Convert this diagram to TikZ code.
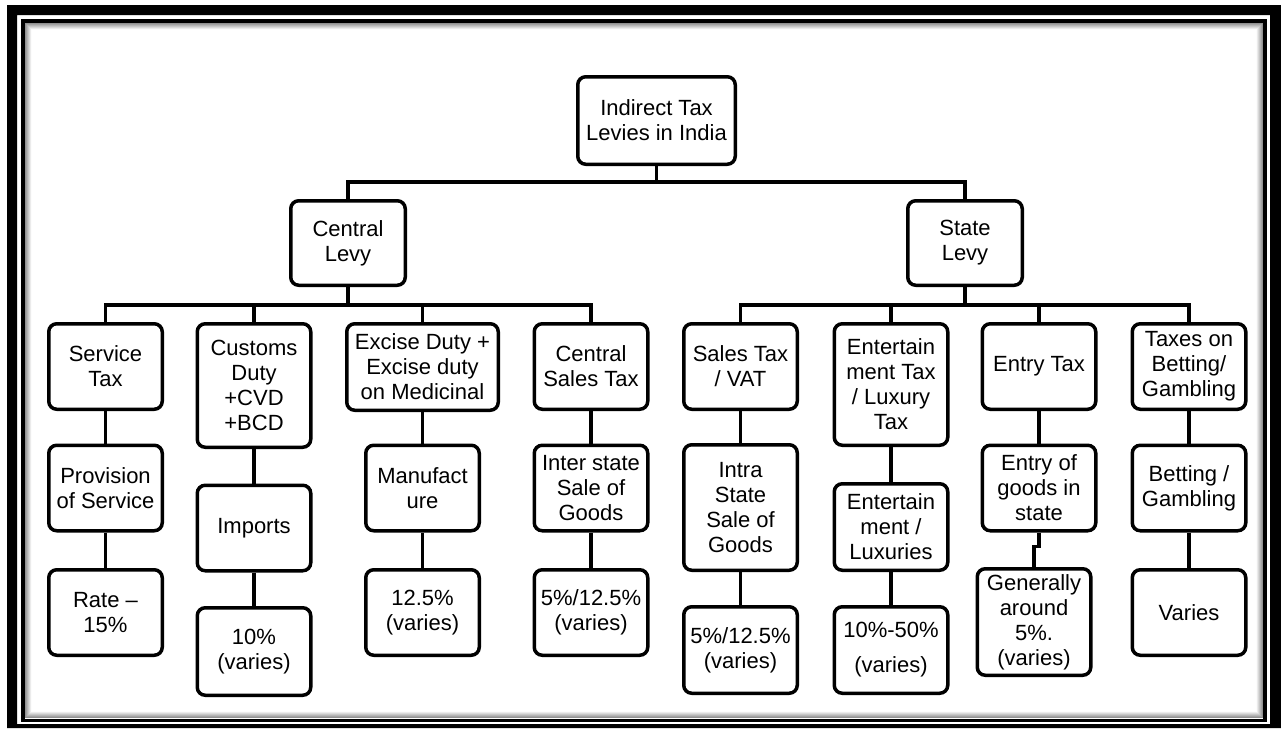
\documentclass[tikz,border=0pt]{standalone}
\usepackage{fontspec}
\setmainfont{Liberation Sans}

\begin{document}
\begin{tikzpicture}[x=1pt,y=-1pt,line width=3.5pt,
		box/.style={draw,rounded corners=8pt,align=center,inner sep=0pt,
			minimum width=113.5pt,minimum height=85.5pt,
			font=\fontsize{22}{25}\selectfont}]
				\useasboundingbox (0,0) rectangle (1281,728);
				\fill[even odd rule] (7,5) rectangle (1281,728) (17,15) rectangle (1270,724);
				\foreach \i [evaluate=\i as \g using 50-7*\i] in {1,...,7}
					\draw[black!\g,line width=1pt] (24.75+\i,22.75+\i) rectangle (1263.25-\i,718.75-\i);
				\draw[line width=3.5pt] (23,21) rectangle (1265,720.5);
				\node[box,minimum width=157.5pt,minimum height=87.5pt] (T) at (656.5,120.5) {Indirect Tax\\Levies in India};
				\node[box,minimum width=114.5pt,minimum height=84.5pt] (C) at (348,243) {Central\\Levy};
				\node[box,minimum width=114.5pt,minimum height=84.5pt] (S) at (965,243) {State\\Levy};
				\node[box] (C1) at (105.5,366.5) {Service\\Tax};
				\node[box] (C1') at (105.5,488) {Provision\\of Service};
				\node[box] (C1'') at (105.5,612.5) {Rate –\\15\%};
				\node[box,minimum height=123.5pt] (C2) at (254,385.5) {Customs\\Duty\\+CVD\\+BCD};
				\node[box] (C2') at (254,528) {Imports};
				\node[box,minimum height=87.5pt] (C2'') at (254,651.5) {10\%\\(varies)};
				\node[box,minimum width=151.5pt,minimum height=86.5pt] (C3) at (422.5,367) {Excise Duty +\\Excise duty\\on Medicinal};
				\node[box] (C3') at (422.5,488) {Manufact\\ure};
				\node[box] (C3'') at (422.5,612.5) {12.5\%\\(varies)};
				\node[box] (C4) at (591,366.5) {Central\\Sales Tax};
				\node[box] (C4') at (591,488) {Inter state\\Sale of\\Goods};
				\node[box] (C4'') at (591,612.5) {5\%/12.5\%\\(varies)};
				\node[box] (S1) at (740.5,366.5) {Sales Tax\\/ VAT};
				\node[box,minimum height=125.5pt] (S1') at (740.5,507.5) {Intra\\State\\Sale of\\Goods};
				\node[box,minimum height=86.5pt] (S1'') at (740.5,650) {5\%/12.5\%\\(varies)};
				\node[box,minimum height=121.5pt] (S2) at (891,384.5) {Entertain\\ment Tax\\/ Luxury\\Tax};
				\node[box,minimum height=86.5pt] (S2') at (891,527) {Entertain\\ment /\\Luxuries};
				\node[box,minimum height=86.5pt] (S2'') at (891,650) {10\%-50\%\\[10pt](varies)};
				\node[box] (S3) at (1039,366.5) {Entry Tax};
				\node[box] (S3') at (1039,488) {Entry of\\goods in\\state};
				\node[box,minimum height=106.5pt] (S3'') at (1034,622) {Generally\\around\\5\%.\\(varies)};
				\node[box] (S4) at (1189,366.5) {Taxes on\\Betting/\\Gambling};
				\node[box] (S4') at (1189,488) {Betting /\\Gambling};
				\node[box] (S4'') at (1189,612.5) {Varies};
				\draw (T.south) -- ++(0,16) -| (C.north);
				\draw (T.south) -- ++(0,16) -| (S.north);
				\foreach \n in {C1,C2,C3,C4}
					\draw (C.south) -- ++(0,18) -| (\n.north);
				\foreach \n in {S1,S2,S3,S4}
					\draw (S.south) -- ++(0,18) -| (\n.north);
				\foreach \n in {C1,C2,C3,C4,S1,S2,S4}{
					\draw (\n.south) -- (\n'.north);
					\draw (\n'.south) -- (\n''.north);}
				\draw (S3.south) -- (S3'.north);
				\draw (S3'.south) -- ++(0,14) -| (S3''.north);
			\end{tikzpicture}
\end{document}
